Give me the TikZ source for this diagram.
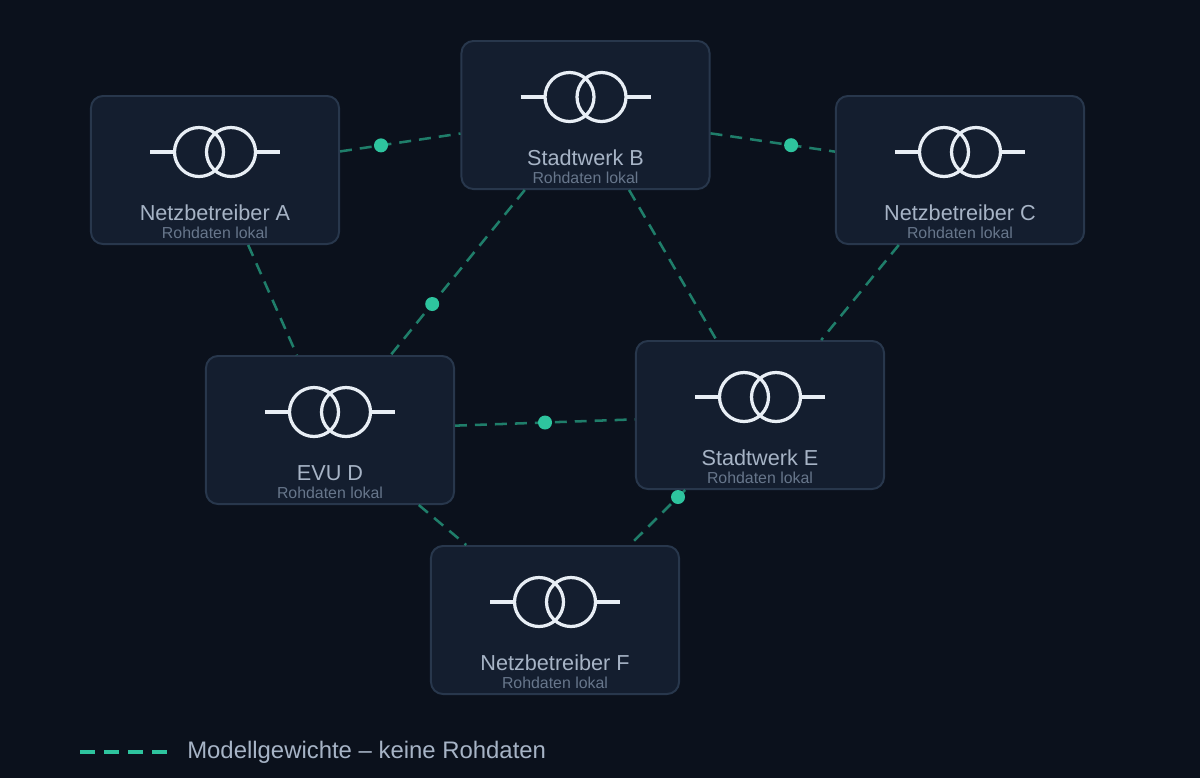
\documentclass[tikz,border=0pt]{standalone}
\usepackage{fontspec}
\setmainfont{Liberation Sans}
\usetikzlibrary{calc}

\definecolor{bgdark}{HTML}{0B111C}
\definecolor{boxfill}{HTML}{141E2F}
\definecolor{boxline}{HTML}{28374C}
\definecolor{symline}{HTML}{E8EEF5}
\definecolor{titletext}{HTML}{A7B4C6}
\definecolor{subtext}{HTML}{67768B}
\definecolor{linkline}{HTML}{1F7E6A}
\definecolor{packet}{HTML}{2EC49E}

\tikzset{
  station/.style={draw=boxline, line width=1.4pt, fill=boxfill, rounded corners=0.3cm,
    minimum width=6.2cm, minimum height=3.7cm, inner sep=0pt},
  symbol/.style={draw=symline, line width=2.3pt},
  title/.style={text=titletext, font=\fontsize{15.4}{18}\selectfont, inner sep=0pt},
  sub/.style={text=subtext, font=\fontsize{11.3}{13}\selectfont, inner sep=0pt},
  link/.style={draw=linkline, line width=1.8pt, dash pattern=on 8.5pt off 5.7pt},
  packet/.style={circle, fill=packet, minimum size=0.35cm, inner sep=0pt}
}

\begin{document}
\begin{tikzpicture}[x=0.025cm, y=-0.025cm]
                        \fill[bgdark] (0,0) rectangle (1200,778);
                        % stations
                        \foreach \n/\px/\py/\l in {A/215/170/Netzbetreiber A, B/585.5/115/Stadtwerk B, C/960/170/Netzbetreiber C, D/330/430/EVU D, E/760/415/Stadtwerk E, F/555/620/Netzbetreiber F}{
                            \node[station] (\n) at (\px,\py) {};
                            \draw[symbol] ($(\n)+(-65,-18)$) -- ($(\n)+(-41,-18)$) ($(\n)+(41,-18)$) -- ($(\n)+(65,-18)$);
                            \draw[symbol] ($(\n)+(-16,-18)$) circle[radius=0.6125cm] ($(\n)+(16,-18)$) circle[radius=0.6125cm];
                            \node[title] (\n-t) at ($(\n)+(0,43)$) {\l};
                            \node[sub] (\n-s) at ($(\n)+(0,62.5)$) {Rohdaten lokal};
                        }
                        % weights exchange
                        \foreach \a/\b in {A/B, B/C, A/D, B/D, B/E, C/E, D/E, D/F, E/F}
                            \draw[link] (\a) -- (\b);
                        \node[packet] (p1) at ($(A)!0.448!(B)$) {};
                        \node[packet] (p2) at ($(B)!0.549!(C)$) {};
                        \node[packet] (p3) at ($(B)!0.6!(D)$) {};
                        \node[packet] (p4) at ($(D)!0.5!(E)$) {};
                        \node[packet] (p5) at ($(E)!0.4!(F)$) {};
                        % legend
                        \coordinate (lg1) at (80,752);
                        \coordinate (lg2) at (167,752);
                        \draw[draw=packet, line width=2.8pt, dash pattern=on 10.7pt off 6.4pt] (lg1) -- (lg2);
                        \node[anchor=west, text=titletext, font=\fontsize{17}{20}\selectfont, inner sep=0pt] (lgt) at (187,752) {Modellgewichte – keine Rohdaten};
                    \end{tikzpicture}
\end{document}
